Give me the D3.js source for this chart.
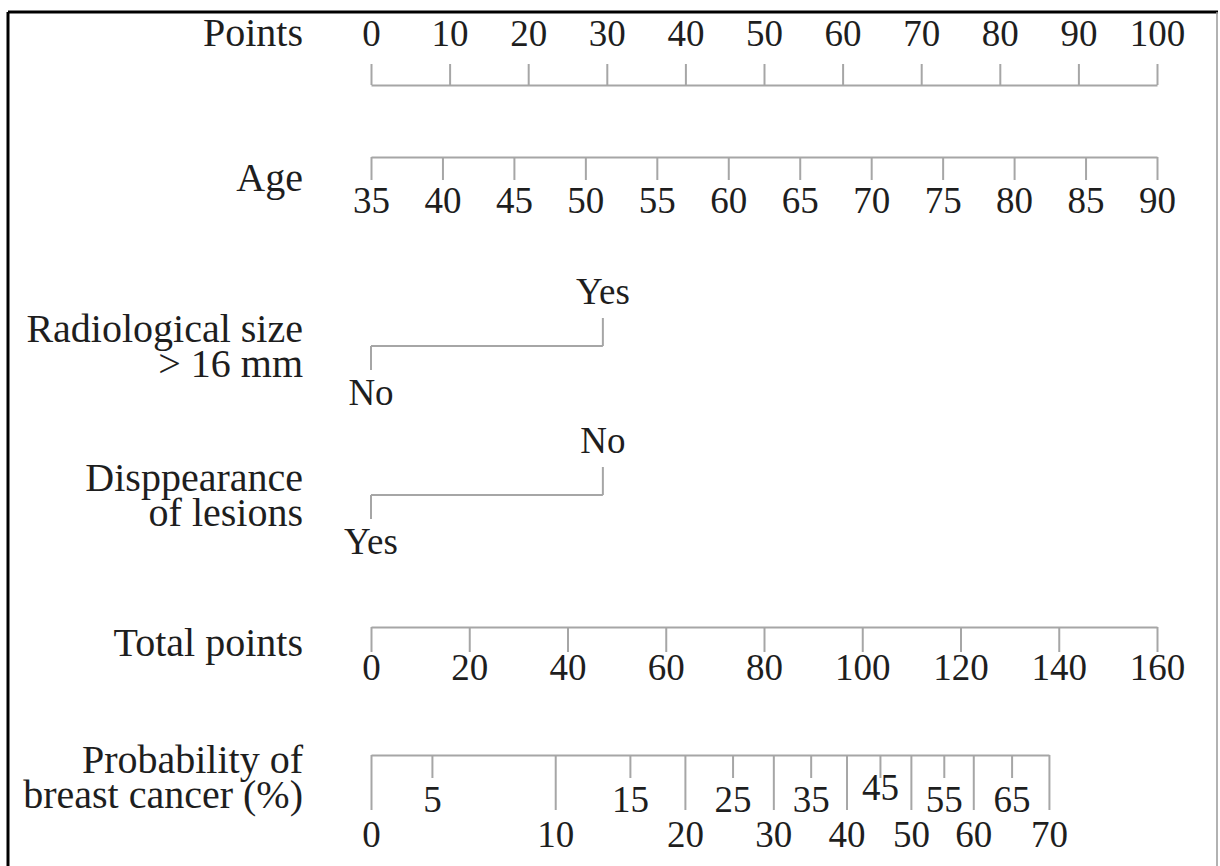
<!DOCTYPE html>
<html lang="en">
<head>
<meta charset="UTF-8">
<title>Nomogram</title>
<style>
  body { margin: 0; background: #fff; }
  .axis path, .axis line, .bar { stroke: #a6a6a6; stroke-width: 2; fill: none; }
</style>
</head>
<body>
<div id="chart"></div>
<script src="https://d3js.org/d3.v7.min.js"></script>
<script>
// nomogram scales
const pointsTicks = [0, 10, 20, 30, 40, 50, 60, 70, 80, 90, 100];
const ageTicks = [35, 40, 45, 50, 55, 60, 65, 70, 75, 80, 85, 90];
const sizeLevels = ["No", "Yes"];
const sizePoints = [0, 29.5];
const lesionLevels = ["Yes", "No"];
const lesionPoints = [0, 29.5];
const totalTicks = [0, 20, 40, 60, 80, 100, 120, 140, 160];
const probTicks = [0, 5, 10, 15, 20, 25, 30, 35, 40, 45, 50, 55, 60, 65, 70];
// where each probability tick sits on the total points scale
const probTotal = [0, 12.4, 37.5, 52.7, 63.9, 73.6, 81.9, 89.5, 96.8, 103.6, 109.9, 116.6, 122.6, 130.4, 138];

const width = 1220, height = 866;
const serif = "'Liberation Serif', 'Times New Roman', serif";
const labelSize = 40;   // row names
const tickSize = 37;    // tick / level labels
const labelX = 303;
const ink = "#1e1e1e";

const svg = d3.select("#chart").append("svg")
    .attr("width", width)
    .attr("height", height)
    .style("font-family", serif);

// frame
svg.append("line").attr("x1", 8).attr("x2", 1218).attr("y1", 12).attr("y2", 12)
    .attr("stroke", "#000").attr("stroke-width", 3);
svg.append("line").attr("x1", 8).attr("x2", 8).attr("y1", 12).attr("y2", height)
    .attr("stroke", "#000").attr("stroke-width", 3);
svg.append("line").attr("x1", 1217).attr("x2", 1217).attr("y1", 12).attr("y2", height)
    .attr("stroke", "#999").attr("stroke-width", 1.5);

const pointsX = d3.scaleLinear().domain([0, 100]).range([371, 1157]);
const ageX = d3.scaleLinear().domain([35, 90]).range([371, 1157]);
const totalX = d3.scaleLinear().domain([0, 160]).range([371, 1157]);
const probX = d3.scaleLinear().domain(probTicks).range(probTotal.map(totalX));

function rowLabel(lines, baseline) {
    const t = svg.append("text")
        .attr("x", labelX)
        .attr("y", baseline)
        .attr("text-anchor", "end")
        .style("font-family", serif)
        .attr("font-size", labelSize)
        .attr("fill", ink);
    lines.forEach((s, i) => {
        t.append("tspan")
            .attr("x", labelX)
            .attr("dy", i === 0 ? 0 : 35)
            .text(s);
    });
}

function styleText(g, y) {
    g.attr("font-family", null);
    g.selectAll(".tick text")
        .attr("y", y)
        .attr("dy", 0)
        .attr("font-size", tickSize)
        .style("font-family", serif)
        .attr("fill", ink);
}

// Points
rowLabel(["Points"], 46);
const gPoints = svg.append("g").attr("class", "axis")
    .attr("transform", "translate(0,85)")
    .call(d3.axisTop(pointsX).tickValues(pointsTicks).tickSize(21).tickSizeOuter(0));
styleText(gPoints, -39);

// Age
rowLabel(["Age"], 191);
const gAge = svg.append("g").attr("class", "axis")
    .attr("transform", "translate(0,157)")
    .call(d3.axisBottom(ageX).tickValues(ageTicks).tickSize(23).tickSizeOuter(0));
styleText(gAge, 56);

// two-level factors: first level drawn below the bar, second above
function factorRow(levels, pts, y, labelLines, labelBase) {
    rowLabel(labelLines, labelBase);
    const g = svg.append("g");
    g.append("line").attr("class", "bar")
        .attr("x1", pointsX(pts[0])).attr("x2", pointsX(pts[1]))
        .attr("y1", y).attr("y2", y);
    g.selectAll(".tk").data(pts).enter().append("line")
        .attr("class", "bar")
        .attr("x1", d => pointsX(d)).attr("x2", d => pointsX(d))
        .attr("y1", y)
        .attr("y2", (d, i) => i === 0 ? y + 24 : y - 28);
    g.selectAll(".lv").data(levels).enter().append("text")
        .attr("x", (d, i) => pointsX(pts[i]))
        .attr("y", (d, i) => i === 0 ? y + 59 : y - 42)
        .attr("text-anchor", "middle")
        .style("font-family", serif)
        .attr("font-size", tickSize)
        .attr("fill", ink)
        .text(d => d);
}

factorRow(sizeLevels, sizePoints, 346, ["Radiological size", "> 16 mm"], 342);
factorRow(lesionLevels, lesionPoints, 495, ["Disppearance", "of lesions"], 491);

// Total points
rowLabel(["Total points"], 656);
const gTotal = svg.append("g").attr("class", "axis")
    .attr("transform", "translate(0,627)")
    .call(d3.axisBottom(totalX).tickValues(totalTicks).tickSize(25).tickSizeOuter(0));
styleText(gTotal, 53);

// Probability
rowLabel(["Probability of", "breast cancer (%)"], 773);
const gProb = svg.append("g").attr("class", "axis")
    .attr("transform", "translate(0,755)")
    .call(d3.axisBottom(probX).tickValues(probTicks).tickSize(55).tickSizeOuter(0));
styleText(gProb, 92);
gProb.selectAll(".tick").each(function(d, i) {
    if (i % 2 === 1) {
        const t = d3.select(this);
        t.select("line").attr("y2", 23);
        t.select("text").attr("y", d === 45 ? 45 : 57);
    }
});
</script>
</body>
</html>
